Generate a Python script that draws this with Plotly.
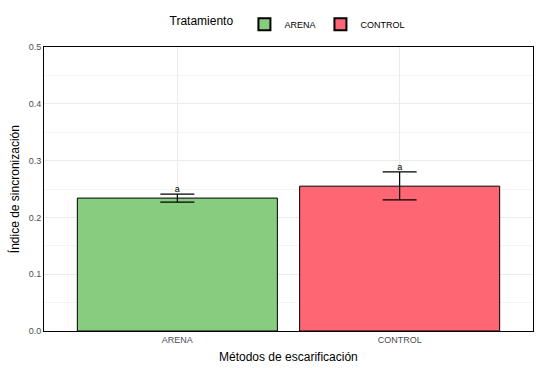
import plotly.graph_objects as go

categories = ["ARENA", "CONTROL"]
means = [0.234, 0.255]
upper = [0.241, 0.280]
lower = [0.227, 0.231]
letters = ["a", "a"]
colors = ["#88CC80", "#FF6673"]

fig = go.Figure()
for i, c in enumerate(categories):
    fig.add_trace(go.Bar(
        x=[c], y=[means[i]], name=c, width=0.9,
        marker=dict(color=colors[i], line=dict(color="black", width=1)),
        error_y=dict(type="data", symmetric=False,
                     array=[upper[i] - means[i]], arrayminus=[means[i] - lower[i]],
                     color="black", thickness=1.2, width=17),
    ))
fig.add_trace(go.Scatter(
    x=categories, y=upper, text=letters, mode="text", textposition="top center",
    textfont=dict(size=9, color="black", family="Liberation Sans, Arial"),
    showlegend=False, hoverinfo="skip", cliponaxis=False,
))

fig.update_layout(
    width=538, height=368,
    margin=dict(l=44, r=5, t=47, b=37, autoexpand=False),
    plot_bgcolor="white", paper_bgcolor="white",
    font=dict(family="Liberation Sans, Arial", color="black"),
    showlegend=True,
    legend=dict(orientation="h", x=0.5, xanchor="center", y=1.08, yanchor="middle",
                title=dict(text="Tratamiento ", font=dict(size=12), side="left"),
                font=dict(size=9), itemsizing="constant", traceorder="normal"),
    bargap=0.1,
    annotations=[
        dict(text="Métodos de escarificación", x=0.5, xref="paper",
             y=-0.092, yref="paper", yanchor="middle", showarrow=False,
             font=dict(size=12, color="black")),
        dict(text="Índice de sincronización", x=-0.061, xref="paper", xanchor="center",
             y=0.5, yref="paper", yanchor="middle", showarrow=False, textangle=-90,
             font=dict(size=12, color="black")),
    ],
)
fig.update_xaxes(
    type="category", range=[-0.6, 1.6], automargin=False,
    showgrid=True, gridcolor="#EBEBEB", gridwidth=1,
    showline=True, linecolor="black", linewidth=1, mirror=True,
    tickfont=dict(size=9, color="#4D4D4D"), ticks="",
    zeroline=False,
)
fig.update_yaxes(
    range=[0, 0.5], tickvals=[0, 0.1, 0.2, 0.3, 0.4, 0.5], tickformat=".1f",
    automargin=False,
    showgrid=True, gridcolor="#EBEBEB", gridwidth=1,
    minor=dict(tickvals=[0.05, 0.15, 0.25, 0.35, 0.45], showgrid=True, gridcolor="#F5F5F5"),
    showline=True, linecolor="black", linewidth=1, mirror=True,
    tickfont=dict(size=9, color="#4D4D4D"), ticks="",
    zeroline=False,
)
fig.write_html("out.html", config={"displayModeBar": False},
               post_script="document.body.style.margin='0';document.body.style.overflow='hidden';")
